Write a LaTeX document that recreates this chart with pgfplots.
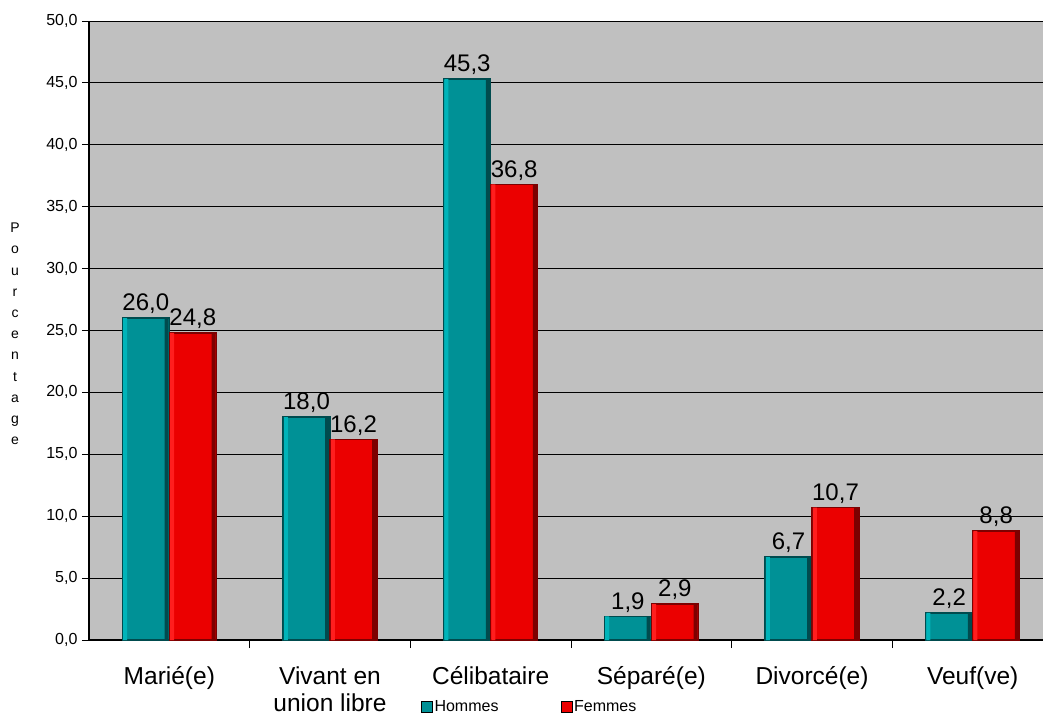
\documentclass[border=0pt]{standalone}
\usepackage{pgfplots}
\pgfplotsset{compat=1.18}
\usepackage{fontspec}
\setmainfont{Liberation Sans}
\definecolor{hom}{RGB}{0,145,150}
\definecolor{homl}{RGB}{0,180,185}
\definecolor{homd}{RGB}{0,75,78}
\definecolor{fem}{RGB}{235,0,0}
\definecolor{feml}{RGB}{255,30,30}
\definecolor{femd}{RGB}{125,0,0}
\definecolor{bg}{RGB}{192,192,192}
\pgfplotstableread{
x hom fem
0 26.0 24.8
1 18.0 16.2
2 45.3 36.8
3 1.9 2.9
4 6.7 10.7
5 2.2 8.8
}\data
\begin{document}
\begin{tikzpicture}[x=1pt,y=1pt]
\useasboundingbox (0,0) rectangle (1043,715);
\begin{axis}[
  at={(89pt,75pt)}, anchor=south west,
  scale only axis, width=964pt, height=619pt,
  xmin=-0.5, xmax=5.5, ymin=0, ymax=50,
  ybar=0pt,
  axis background/.style={fill=bg},
  axis lines=left, axis line style={-, black, line width=1.4pt},
  tick align=outside,
  ytick={0,5,...,50},
  ymajorgrids, major grid style={black, line width=0.8pt},
  major tick length=7pt, minor tick length=8pt,
  tick style={black, line width=0.8pt},
  yticklabel style={/pgf/number format/.cd, fixed, fixed zerofill, precision=1, use comma, assume math mode=true, /tikz/.cd, font=\fontsize{16}{16}\selectfont, xshift=-1pt},
  xtick={0,...,5},
  xticklabels={{Marié(e)},{Vivant en\\union libre},{Célibataire},{Séparé(e)},{Divorcé(e)},{Veuf(ve)}},
  major x tick style={draw=none},
  minor xtick={0.5,1.5,...,5.5},
  xticklabel style={font=\fontsize{24.5}{27.5}\selectfont, align=center, anchor=north, yshift=-16pt},
  every node near coord/.append style={font=\fontsize{24}{24}\selectfont, black},
  nodes near coords style={/pgf/number format/.cd, fixed, fixed zerofill, precision=1, use comma, assume math mode=true},
  legend style={at={(axis description cs:0.341,-0.108)}, anchor=west, draw=none, fill=none,
    font=\fontsize{16}{16}\selectfont, legend columns=2,
    /tikz/every even column/.append style={column sep=60pt}},
  legend image code/.code={\draw[#1, draw=black, line width=0.6pt] (0pt,-5.5pt) rectangle (11pt,5.5pt);},
]
\addplot[fill=hom, draw=homd, line width=1.6pt, bar width=47pt, bar shift=-23.5pt, nodes near coords] table[x=x, y=hom] {\data};
\addplot[fill=fem, draw=femd, line width=1.6pt, bar width=47pt, bar shift=23.5pt, nodes near coords] table[x=x, y=fem] {\data};
\legend{Hommes, Femmes}
% bevel strips
\addplot[forget plot, fill=homl, draw=none, bar width=4pt, bar shift=-44.2pt] table[x=x, y=hom] {\data};
\addplot[forget plot, fill=homd, draw=none, bar width=4pt, bar shift=-2.8pt] table[x=x, y=hom] {\data};
\addplot[forget plot, fill=feml, draw=none, bar width=4pt, bar shift=2.8pt] table[x=x, y=fem] {\data};
\addplot[forget plot, fill=femd, draw=none, bar width=4pt, bar shift=44.2pt] table[x=x, y=fem] {\data};
\end{axis}
\node[font=\fontsize{14}{21.2}\selectfont, align=center] at (15,381) {P\\o\\u\\r\\c\\e\\n\\t\\a\\g\\e};
\end{tikzpicture}
\end{document}
